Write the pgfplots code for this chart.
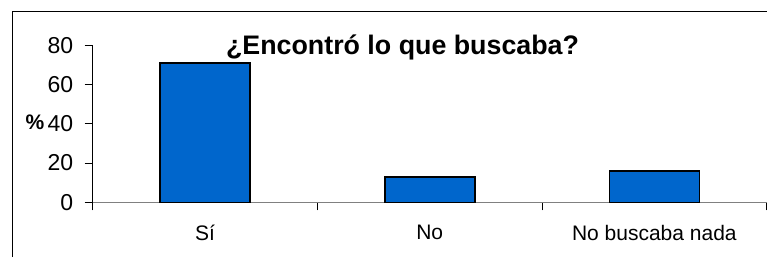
\documentclass[border=0pt]{standalone}
\usepackage{pgfplots}
\pgfplotsset{compat=1.18}
\usepackage{fontspec}
\setmainfont{Liberation Sans}
\definecolor{barblue}{HTML}{0066CC}
\definecolor{xaxgray}{HTML}{808080}
\begin{document}
\begin{tikzpicture}[x=1pt,y=1pt]
\useasboundingbox (0,0) rectangle (767,257);
\draw[black,line width=1pt] (12,0) -- (12,245) -- (768,245);
\begin{axis}[
  at={(92.7pt,54.7pt)}, anchor=south west,
  scale only axis, width=674pt, height=157pt,
  xmin=-0.5, xmax=2.5, ymin=0, ymax=80,
  axis lines*=left,
  x axis line style={xaxgray, line width=1pt},
  y axis line style={black, line width=0.8pt},
  tick align=outside,
  major tick length=8pt,
  tick style={black, line width=0.8pt},
  xtick={-0.5,0.5,1.5,2.5},
  x tick label as interval,
  xticklabels={Sí,No,No buscaba nada},
  ytick={0,20,40,60,80},
  /pgf/number format/assume math mode=true,
  yticklabel style={font=\fontsize{23}{26}\selectfont, xshift=-8pt},
  xticklabel style={font=\fontsize{21}{24}\selectfont, yshift=-11pt},
  ybar, bar width=90pt, bar shift=0pt,
  clip=false,
]
\addplot[fill=barblue, draw=black, line width=1.6pt] coordinates {(0,71) (1,13) (2,16)};
\end{axis}
\node[anchor=base, font=\fontsize{26.8}{30}\selectfont\bfseries] at (402.5,202) {¿Encontró lo que buscaba?};
\node[anchor=base, font=\fontsize{21}{24}\selectfont\bfseries] at (35,127.5) {\%};
\end{tikzpicture}
\end{document}
